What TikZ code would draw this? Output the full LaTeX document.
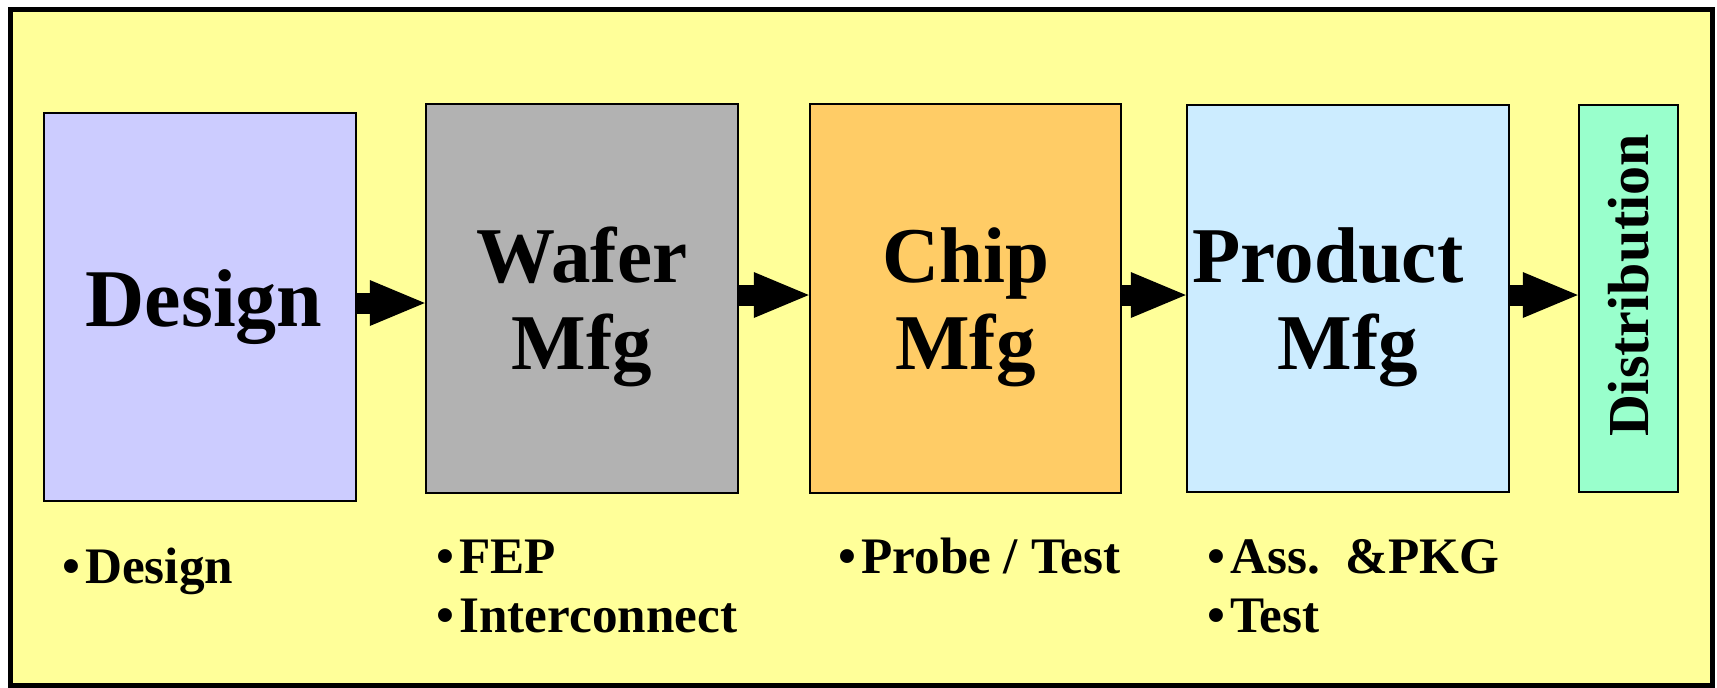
\documentclass[tikz,border=0pt]{standalone}
\usepackage{fontspec}
\setmainfont{Liberation Serif}
\usepackage{graphicx}
\usetikzlibrary{arrows.meta,positioning}
\definecolor{bgyellow}{HTML}{FFFF99}
\definecolor{designblue}{HTML}{CCCCFF}
\definecolor{wafergray}{HTML}{B2B2B2}
\definecolor{chiporange}{HTML}{FFCC66}
\definecolor{productblue}{HTML}{CCECFF}
\definecolor{distgreen}{HTML}{99FFCC}
\newcommand{\bul}{•\kern2.5pt}
\begin{document}
\begin{tikzpicture}[x=0.5pt,y=-0.5pt,
  stage/.style={draw=black,line width=1.25pt,inner sep=0pt,align=center,
    font=\fontsize{39.5}{43.5}\selectfont\bfseries},
  flow/.style={line width=10.5pt,-{Triangle[length=27.5pt,width=23pt,line width=0pt]}},
  item/.style={anchor=base west,inner sep=0pt,font=\fontsize{25.6}{29.5}\selectfont\bfseries}]
% Page size and outer frame
  \useasboundingbox (0,0) rectangle (1717,687);
  \draw[line width=2.5pt,fill=bgyellow] (10,9) rectangle (1712,685);
% Design stage
  \node[stage,fill=designblue,minimum width=156pt,minimum height=194pt,
    font=\fontsize{41}{43.5}\selectfont\bfseries] (design) at (200,307) {\kern4pt Design};
% Wafer stage
  \node[stage,fill=wafergray,minimum width=156pt,minimum height=194.5pt,text depth=0pt] (wafer) at (582,298.5) {Wafer\\Mfg};
% Chip stage
  \node[stage,fill=chiporange,minimum width=155.5pt,minimum height=194.5pt,text depth=0pt] (chip) at (965.5,298.5) {Chip\\Mfg};
% Product stage
  \node[stage,fill=productblue,minimum width=161pt,minimum height=193.5pt,text depth=0pt] (product) at (1348,298.5) {Product\kern20pt\\Mfg};
% Distribution (upright text)
  \node[stage,fill=distgreen,minimum width=49.5pt,minimum height=193.5pt,
    font=\fontsize{29}{32}\selectfont\bfseries] (dist) at (1628.5,298.5) {\rotatebox{90}{\kern13pt Distribution}};
% Arrows between stages
  \draw[flow] (design.east |- 0,303) -- (wafer.west |- 0,303);
  \draw[flow] (wafer.east |- 0,295) -- (chip.west |- 0,295);
  \draw[flow] (chip.east |- 0,295) -- (product.west |- 0,295);
  \draw[flow] (product.east |- 0,295) -- (dist.west |- 0,295);
% Bullet items under the stages
  \node[item] (designitem) at (62,583) {\bul Design};
  \node[item] (fepitem) at (436,573) {\bul FEP};
  \node[item] (interitem) at (436,632) {\bul Interconnect};
  \node[item] (probeitem) at (838,573) {\bul Probe / Test};
  \node[item] (assitem) at (1207,573) {\bul Ass.\kern13pt\&PKG};
  \node[item] (testitem) at (1207,632) {\bul Test};
\end{tikzpicture}
\end{document}
